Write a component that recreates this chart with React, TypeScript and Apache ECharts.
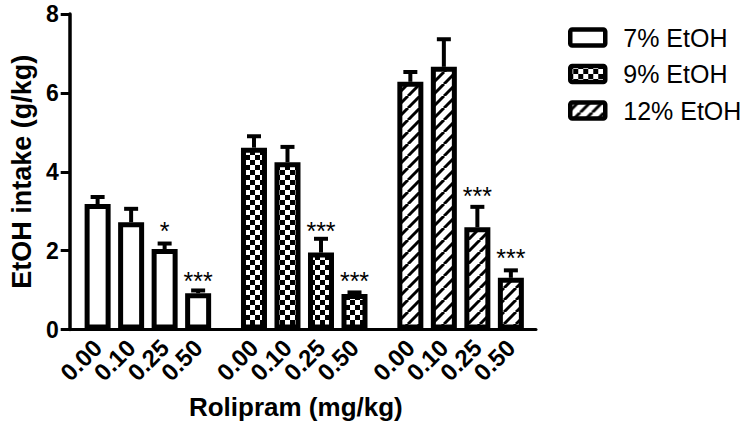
import React, { useEffect, useRef } from 'react';
import * as echarts from 'echarts';

// ---- data ----
const doses = ['0.00', '0.10', '0.25', '0.50'];
const groups = ['7% EtOH', '9% EtOH', '12% EtOH'];
const means7 = [3.18, 2.72, 2.04, 0.92];
const upper7 = [3.36, 3.06, 2.18, 0.99];
const means9 = [4.61, 4.24, 1.95, 0.9];
const upper9 = [4.9, 4.63, 2.3, 0.94];
const means12 = [6.28, 6.66, 2.59, 1.31];
const upper12 = [6.53, 7.36, 3.11, 1.5];
const sig7 = ['', '', '*', '***'];
const sig9 = ['', '', '***', '***'];
const sig12 = ['', '', '***', '***'];
const sigY7 = [0, 0, 2.65, 1.38];
const sigY9 = [0, 0, 2.65, 1.38];
const sigY12 = [0, 0, 3.54, 1.97];
const yMin = 0;
const yMax = 8;
const yStep = 2;
const xTitle = 'Rolipram (mg/kg)';
const yTitle = 'EtOH intake (g/kg)';

// ---- layout constants ----
const BAR_STEP = 3;
const GROUP_STEP = 14;
const FONT = '"Liberation Sans", Arial, Helvetica, sans-serif';

const barPos = (g: number, i: number) => g * GROUP_STEP + i * BAR_STEP;

function makeChecker(cell: number) {
  const c = document.createElement('canvas');
  c.width = cell * 2;
  c.height = cell * 2;
  const ctx = c.getContext('2d')!;
  ctx.fillStyle = '#fff';
  ctx.fillRect(0, 0, cell * 2, cell * 2);
  ctx.fillStyle = '#000';
  ctx.fillRect(0, 0, cell, cell);
  ctx.fillRect(cell, cell, cell, cell);
  return { image: c.toDataURL(), repeat: 'repeat', imageWidth: cell * 2, imageHeight: cell * 2 };
}

function makeHatch(p: number, lw: number) {
  const c = document.createElement('canvas');
  c.width = p;
  c.height = p;
  const ctx = c.getContext('2d')!;
  ctx.fillStyle = '#fff';
  ctx.fillRect(0, 0, p, p);
  ctx.strokeStyle = '#000';
  ctx.lineWidth = lw;
  for (const k of [-p, 0, p]) {
    ctx.beginPath();
    ctx.moveTo(k, p);
    ctx.lineTo(k + p, 0);
    ctx.stroke();
  }
  return { image: c.toDataURL(), repeat: 'repeat', imageWidth: p, imageHeight: p };
}

export default function App() {
  const ref = useRef<HTMLDivElement>(null);
  useEffect(() => {
    if (!ref.current) return;
    const chart = echarts.init(ref.current, undefined, { renderer: 'svg' });
    const fills: any[] = ['#ffffff', makeChecker(5), makeHatch(12, 3)];
    const meansAll = [means7, means9, means12];
    const upperAll = [upper7, upper9, upper12];
    const sigAll = [sig7, sig9, sig12];
    const sigYAll = [sigY7, sigY9, sigY12];

    const labelAt = (v: number) => {
      for (let g = 0; g < groups.length; g++)
        for (let i = 0; i < doses.length; i++)
          if (Math.abs(barPos(g, i) - v) < 1e-6) return doses[i];
      return '';
    };

    const barSeries = groups.map((name, g) => ({
      name,
      type: 'bar',
      barWidth: 26,
      barGap: '-100%',
      itemStyle: { color: fills[g], borderColor: '#000', borderWidth: 5 },
      data: meansAll[g].map((m, i) => [barPos(g, i), m]),
      z: 2,
    }));

    const errSeries = groups.map((name, g) => ({
      name: name + ' err',
      type: 'custom',
      z: 3,
      data: meansAll[g].map((m, i) => [barPos(g, i), m, upperAll[g][i], sigYAll[g][i]]),
      renderItem: (params: any, api: any) => {
        const x = api.value(0);
        const base = api.coord([x, api.value(1)]);
        const top = api.coord([x, api.value(2)]);
        const children: any[] = [
          { type: 'line', shape: { x1: base[0], y1: base[1], x2: top[0], y2: top[1] }, style: { stroke: '#000', lineWidth: 4 } },
          { type: 'line', shape: { x1: top[0] - 7, y1: top[1], x2: top[0] + 7, y2: top[1] }, style: { stroke: '#000', lineWidth: 4 } },
        ];
        const lab = sigAll[g][params.dataIndex];
        if (lab) {
          const s = api.coord([x, api.value(3)]);
          children.push({
            type: 'text',
            x: s[0],
            y: s[1] + 6,
            style: { text: lab, fontSize: 25, fontFamily: FONT, fill: '#000', align: 'center', verticalAlign: 'middle' },
          });
        }
        return { type: 'group', children };
      },
    }));

    const legendGraphics = groups.map((name, g) => ({
      type: 'group',
      left: 568,
      top: 25 + g * 36.5,
      children: [
        { type: 'rect', shape: { x: 2, y: 2, width: 35, height: 16, r: 2 }, style: { fill: fills[g], stroke: '#000', lineWidth: 4.5 } },
        { type: 'text', x: 55, y: 10, style: { text: name, fontSize: 25, fontFamily: FONT, fill: '#000', verticalAlign: 'middle' } },
      ],
    }));

    chart.setOption({
      animation: false,
      backgroundColor: '#fff',
      grid: { left: 64, right: 214, top: 14, bottom: 96.5 },
      xAxis: {
        type: 'value',
        min: -2.5,
        max: 39.25,
        interval: 0.25,
        splitLine: { show: false },
        axisTick: { show: false },
        axisLine: { onZero: false, lineStyle: { color: '#000', width: 3 } },
        axisLabel: {
          formatter: (v: number) => labelAt(v),
          rotate: 45,
          margin: 14,
          fontSize: 24,
          fontWeight: 'bold',
          fontFamily: FONT,
          color: '#000',
        },
        name: xTitle,
        nameLocation: 'middle',
        nameGap: 64,
        nameTextStyle: { fontSize: 26, fontWeight: 'bold', fontFamily: FONT, color: '#000', padding: [0, 14, 0, 0] },
      },
      yAxis: {
        type: 'value',
        min: yMin,
        max: yMax,
        interval: yStep,
        splitLine: { show: false },
        axisLine: { show: true, onZero: false, lineStyle: { color: '#000', width: 3.5 } },
        axisTick: { show: true, length: 9, lineStyle: { color: '#000', width: 3 } },
        axisLabel: { margin: 11, fontSize: 23, fontWeight: 'bold', fontFamily: FONT, color: '#000' },
        name: yTitle,
        nameLocation: 'middle',
        nameGap: 30,
        nameTextStyle: { fontSize: 27, fontWeight: 'bold', fontFamily: FONT, color: '#000' },
      },
      graphic: legendGraphics,
      series: [...barSeries, ...errSeries],
    });
    return () => chart.dispose();
  }, []);
  return <div ref={ref} style={{ position: 'fixed', left: 0, top: 0, width: 750, height: 426 }} />;
}
